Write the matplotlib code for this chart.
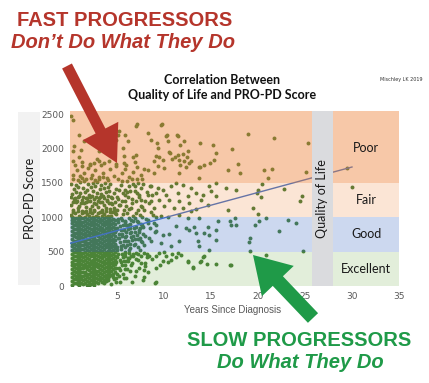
import matplotlib
matplotlib.use("Agg")
import matplotlib.pyplot as plt
from matplotlib.patches import Rectangle, FancyArrow

# --- data ---
# packed core of the scatter (below 1000): one x per column, y values per column
core_x = [0.2, 0.4, 0.6, 0.8, 1.0, 1.2, 1.4, 1.6, 1.8, 2.0, 2.2, 2.4,
          2.6, 2.8, 3.0, 3.2, 3.4, 3.6, 3.8, 4.0, 4.2, 4.4, 4.6, 4.8]
core_y = [
    [20, 75, 130, 185, 240, 300, 350, 410, 465, 520, 575, 630, 690, 745, 800, 855, 910, 965, 1010],
    [45, 100, 160, 215, 270, 325, 380, 440, 495, 550, 605, 660, 720, 775, 830, 885, 940, 990],
    [40, 95, 150, 210, 265, 320, 375, 430, 490, 545, 600, 655, 715, 770, 825, 880, 935, 995],
    [25, 80, 135, 190, 250, 305, 360, 415, 475, 530, 585, 640, 700, 755, 810, 865, 920, 980],
    [10, 65, 120, 175, 235, 290, 345, 400, 460, 515, 570, 625, 680, 740, 795, 850, 905, 960, 1015],
    [40, 95, 150, 205, 265, 320, 375, 430, 485, 545, 600, 655, 710, 770, 825, 880, 935, 995],
    [30, 85, 140, 200, 255, 310, 365, 425, 480, 535, 590, 650, 705, 760, 815, 870, 930, 985],
    [45, 100, 155, 210, 270, 325, 380, 435, 495, 550, 605, 660, 720, 775, 830, 890, 945, 1000],
    [15, 70, 125, 180, 240, 295, 350, 405, 465, 520, 575, 630, 690, 745, 800, 860, 915, 970],
    [10, 60, 115, 175, 230, 285, 340, 395, 455, 510, 565, 620, 680, 735, 790, 845, 905, 960, 1015],
    [35, 90, 145, 205, 260, 315, 370, 430, 485, 540, 600, 655, 710, 765, 825, 880, 935, 990],
    [50, 105, 160, 220, 275, 330, 385, 445, 500, 555, 610, 670, 725, 780, 835, 895, 950, 1005],
    [20, 75, 130, 190, 245, 300, 360, 415, 470, 525, 585, 640, 695, 750, 810, 865, 920, 975],
    [60, 115, 170, 225, 285, 340, 395, 450, 510, 565, 620, 675, 735, 790, 845, 900, 960],
    [45, 100, 155, 215, 270, 325, 380, 440, 495, 550, 605, 665, 720, 775, 830, 890, 945, 1000],
    [80, 135, 190, 250, 305, 360, 415, 475, 530, 585, 640, 700, 755, 810, 865, 925, 980],
    [60, 120, 175, 235, 290, 345, 400, 455, 515, 570, 625, 680, 740, 795, 850, 905, 960, 1020],
    [90, 145, 205, 260, 315, 370, 430, 485, 540, 595, 655, 710, 765, 820, 880, 935, 990],
    [110, 165, 220, 280, 335, 390, 445, 500, 560, 615, 670, 725, 780, 840, 895, 950, 1010],
    [120, 180, 235, 290, 350, 405, 460, 515, 575, 630, 685, 740, 800, 855, 910, 965],
    [140, 200, 255, 310, 365, 420, 480, 535, 590, 645, 705, 760, 815, 870, 930, 985],
    [160, 220, 280, 335, 390, 445, 505, 560, 615, 670, 730, 785, 840, 895, 955, 1015],
    [180, 240, 300, 355, 410, 465, 525, 580, 635, 690, 750, 805, 860, 915, 975],
    [200, 265, 320, 380, 440, 500, 555, 610, 670, 730, 785, 845, 900, 960],
]

# single points outside the packed core
pts_x = [
    # fair band, x 0-5
    0.15, 0.55, 1.05, 1.45, 1.85, 2.35, 2.75, 3.15, 3.65, 4.05, 4.45, 4.85,
    0.35, 0.8, 1.25, 1.65, 2.1, 2.55, 2.95, 3.4, 3.85, 4.25, 4.7,
    0.1, 0.6, 1.0, 1.5, 1.9, 2.3, 2.8, 3.2, 3.6, 4.1, 4.5,
    0.4, 0.85, 1.3, 1.75, 2.15, 2.6, 3.05, 3.5, 3.95, 4.35,
    0.2, 0.65, 1.1, 1.55, 2.0, 2.45, 2.9, 3.3, 3.8, 4.2, 4.65,
    0.45, 0.9, 1.4, 1.8, 2.25, 2.7, 3.15, 3.6, 4.0,
    0.15, 0.6, 1.05, 1.5, 1.95, 2.4, 2.85, 3.3, 3.75, 4.3,
    0.35, 0.8, 1.25, 1.7, 2.2, 2.65, 3.05, 3.5, 4.0,
    0.35, 0.8, 1.25, 1.65, 2.1, 2.55, 2.95, 3.4, 3.85, 4.25, 4.7,
    0.3, 0.75, 1.2, 1.7, 2.15, 2.6, 3.0, 3.45, 3.9, 4.35, 4.8,
    0.1, 0.55, 0.95, 1.4, 1.85, 2.3, 2.75, 3.2, 3.65, 4.05, 4.5,
    # fair band, x 5-8
    5.0, 5.3, 5.6, 5.9, 6.3, 6.6, 7.0, 7.3, 7.7, 5.2,
    5.8, 6.3, 6.9, 7.5, 7.8, 5.5, 6.6, 7.2, 5.1, 6.1,
    # good band, x 5-7.5
    5.0, 5.1, 5.0, 5.4, 5.5, 5.4, 5.9, 5.95, 6.0, 5.95,
    6.4, 6.45, 6.4, 6.9, 6.95, 7.4, 7.45, 7.1, 6.5, 5.55,
    # excellent band, x 4.5-8.5
    4.9, 5.05, 5.4, 5.5, 5.8, 5.9, 6.2, 6.3, 6.6, 6.7,
    7.0, 7.2, 7.5, 7.9, 8.2, 4.6, 5.0, 5.3, 6.1, 4.9,
    # edge of the core, x 5-9
    5.2, 5.3, 5.05, 5.35, 5.2, 5.3, 5.15,
    5.75, 5.8, 5.65, 5.85, 5.7, 5.8,
    6.25, 6.3, 6.15, 6.35, 6.2, 6.3,
    6.75, 6.8, 6.7, 6.85, 6.75,
    7.25, 7.2, 7.3, 7.25,
    7.7, 7.75, 7.65, 7.7,
    4.9, 5.1, 4.8, 5.2, 4.9, 5.1, 4.8, 5.2, 5.0, 4.9,
    5.5, 5.6, 5.4, 5.7, 5.5, 5.6, 5.4, 5.7, 5.5, 5.6, 5.4,
    6.0, 5.9, 6.1, 6.0, 6.2, 5.9, 6.1, 6.0, 6.2, 5.9, 6.1,
    6.5, 6.4, 6.6, 6.5, 6.4, 6.7, 6.5, 6.6, 6.4, 6.7,
    7.0, 6.9, 7.1, 7.0, 6.9, 7.2, 7.0, 7.1, 6.9,
    7.4, 7.5, 7.3, 7.6, 7.4, 7.5, 7.3, 7.6,
    7.9, 8.0, 7.8, 8.1, 7.9, 8.0, 8.2,
    8.4, 8.5, 8.3, 8.6, 8.4, 8.7, 8.5,
    9.0, 8.9, 9.2,
    # below the core
    3.6, 4.0, 4.4, 4.9, 5.3, 5.6, 6.0, 6.4, 6.9, 7.3, 4.7, 5.9, 7.6, 8.0, 8.3, 6.6, 7.9,
    7.2, 7.9, 7.0, 5.2, 5.7, 3.8, 2.6, 6.5, 7.8, 6.2,
    # excellent band, x 8-12
    8.2, 8.7, 9.2, 10.0, 10.8, 11.3, 11.8, 8.0, 9.6, 10.4,
    # 1500-1850, x 0-8
    0.3, 0.7, 1.1, 1.5, 1.9, 2.3, 2.7, 3.1, 3.5, 3.9, 4.3, 4.7, 5.1, 5.5, 5.9, 6.3, 6.7, 7.1, 7.5, 7.9,
    0.5, 1.3, 2.1, 3.3, 4.1, 4.9, 6.0, 6.9, 7.7, 2.9,
    # poor band, left part
    0.1, 0.3, 1.0, 1.5, 0.4, 0.3, 1.2, 1.0, 0.3, 1.3, 2.1, 2.6, 3.1, 3.6,
    5.2, 5.1, 4.9, 6.2, 7.0, 8.3, 5.6, 5.7, 7.0, 5.7, 4.9, 3.1, 7.1, 9.8, 5.8,
    10.3, 11.4, 9.3, 11.7, 13.8, 15.2, 10.6, 12.4, 9.9, 11.7, 13.8, 14.9, 6.7, 7.1,
    9.7, 8.6, 10.2, 11.5, 10.4, 12.1, 9.4, 10.5, 11.5, 12.0, 12.6, 9.1, 9.5, 11.2,
    11.6, 8.9, 10.8, 12.1, 12.7, 12.9, 15.5, 15.3, 9.4, 10.0, 12.3, 13.7, 14.3,
    # fair / good band, x 8-16
    8.3, 8.9, 11.6, 13.7, 11.3, 14.8, 15.5, 8.6, 9.4, 9.9, 10.7, 12.0, 12.9, 15.0,
    8.3, 9.1, 10.2, 11.5, 12.6, 13.4, 14.1, 8.6, 9.5, 10.5, 11.6, 12.7, 13.9, 14.7,
    15.5, 8.9, 10.0, 11.1, 12.0, 12.9, 13.4, 8.8, 9.7, 11.6, 12.6, 13.7, 10.4,
    8.3, 9.1, 11.3, 12.3, 13.2, 14.7, 15.7,
    # good / excellent band, x 8-16
    9.1, 9.9, 10.5, 8.6, 9.7, 11.6, 10.7, 12.7, 13.4, 14.3, 14.8, 15.5, 13.6, 13.7,
    15.5, 14.8, 9.5, 10.2, 10.7, 9.9, 11.5, 8.4, 12.6, 13.9, 14.3, 13.1, 15.5, 9.1,
    9.1, 12.6, 13.1, 13.8, 14.2, 14.6, 17.0, 9.0,
    # x 16-30
    18.9, 21.7, 25.3, 17.2, 17.9, 16.8, 18.1, 20.6, 21.5, 21.1, 25.1, 20.4, 17.7,
    16.6, 20.0, 19.9, 22.8, 20.3, 24.7, 24.5, 19.5, 16.8, 20.0, 17.6, 17.0, 20.9,
    17.1, 17.7, 20.1, 19.7, 23.2, 24.0, 22.2, 19.1, 19.0, 19.1, 20.9, 24.8, 17.1,
    29.5, 30.0,
]
pts_y = [
    1030, 1065, 1010, 1075, 1040, 1055, 1015, 1070, 1045, 1020, 1080, 1050,
    1110, 1135, 1095, 1145, 1120, 1100, 1150, 1105, 1130, 1115, 1140,
    1180, 1215, 1165, 1200, 1230, 1170, 1195, 1225, 1175, 1210, 1185,
    1265, 1290, 1250, 1275, 1300, 1260, 1285, 1305, 1255, 1295,
    1335, 1360, 1345, 1370, 1330, 1375, 1350, 1340, 1365, 1380, 1345,
    1410, 1440, 1420, 1400, 1435, 1455, 1405, 1430, 1445,
    1490, 1475, 1505, 1520, 1480, 1500, 1515, 1470, 1500, 1485,
    1550, 1540, 1575, 1555, 1565, 1535, 1560, 1580, 1545,
    1075, 1090, 1060, 1085, 1070, 1095, 1065, 1080, 1090, 1070, 1085,
    1215, 1235, 1205, 1220, 1240, 1210, 1230, 1215, 1235, 1205, 1225,
    1300, 1285, 1310, 1295, 1280, 1305, 1290, 1300, 1285, 1310, 1275,
    1100, 1180, 1050, 1240, 1120, 1200, 1060, 1320, 1150, 1400,
    1330, 1450, 1380, 1250, 1480, 1520, 1560, 1500, 1270, 1370,
    560, 700, 850, 580, 720, 820, 560, 650, 780, 890,
    610, 710, 850, 680, 790, 700, 840, 950, 960, 960,
    260, 420, 350, 470, 300, 430, 360, 480, 330, 440,
    390, 470, 430, 480, 420, 130, 180, 230, 250, 60,
    260, 380, 520, 640, 760, 870, 980,
    360, 490, 600, 710, 820, 930,
    400, 530, 650, 770, 880, 990,
    470, 600, 720, 840, 950,
    560, 690, 810, 930,
    640, 760, 880, 1000,
    350, 470, 590, 700, 820, 930, 1060, 1180, 1290, 1410,
    300, 420, 540, 650, 760, 880, 990, 1100, 1230, 1350, 1470,
    360, 480, 600, 720, 830, 950, 1060, 1170, 1290, 1400, 1520,
    430, 550, 670, 790, 900, 1020, 1140, 1260, 1380, 1480,
    480, 610, 740, 860, 990, 1110, 1230, 1350, 1460,
    520, 650, 780, 900, 1030, 1160, 1290, 1420,
    600, 730, 860, 980, 1100, 1240, 1370,
    700, 840, 960, 1080, 1200, 1330, 1460,
    780, 920, 1010,
    40, 80, 30, 120, 60, 170, 110, 220, 150, 260, 100, 240, 330, 290, 200, 60, 130,
    380, 230, 215, 145, 115, 75, 45, 305, 90, 410,
    470, 390, 440, 500, 470, 420, 450, 340, 310, 350,
    1620, 1680, 1600, 1650, 1720, 1610, 1680, 1590, 1650, 1570, 1700, 1600, 1550, 1640, 1700, 1580, 1660, 1560, 1620, 1700,
    1760, 1800, 1780, 1760, 1820, 1780, 1760, 1800, 1560, 1840,
    2470, 2410, 2200, 2110, 2035, 1960, 1980, 1875, 1820, 1745, 1760, 1790, 1820, 1790,
    2250, 2195, 2120, 2110, 2325, 2225, 2005, 1890, 1905, 1790, 1750, 1960, 2355, 2355, 2195,
    2195, 2195, 2080, 2050, 2080, 2050, 1930, 1875, 1830, 1760, 1730, 1790, 1875, 1730,
    2340, 2120, 2180, 2180, 2110, 2110, 2005, 1950, 1905, 1920, 1960, 1890, 1880, 1875,
    1830, 1820, 1840, 1820, 1790, 1820, 1935, 1830, 1745, 1715, 1730, 1730, 1760,
    1690, 1640, 1640, 1570, 1500, 1455, 1500, 1455, 1425, 1395, 1455, 1470, 1425, 1380,
    1320, 1350, 1320, 1350, 1310, 1350, 1320, 1235, 1250, 1250, 1235, 1205, 1250, 1180,
    1310, 1135, 1165, 1135, 1135, 1090, 1120, 1030, 1015, 1030, 990, 990, 1010,
    915, 885, 870, 845, 860, 860, 945,
    800, 740, 755, 655, 625, 655, 580, 815, 770, 770, 740, 815, 655, 580,
    670, 525, 480, 435, 380, 365, 480, 435, 365, 365, 435, 260, 320, 260,
    60, 350, 275, 350, 420, 320, 305, 45,
    2210, 2150, 2080, 1990, 1775, 1690, 1640, 1690, 1700, 1570, 1660, 1480, 1395,
    1425, 1395, 1350, 1410, 1295, 1310, 1235, 1135, 1105, 1045, 990, 945, 990,
    885, 885, 945, 885, 960, 915, 800, 700, 640, 510, 450, 510, 305,
    1715, 1440,
]

# linear trend drawn in the chart
trend_x = [0, 30]
trend_y = [620, 1730]

# quality-of-life bands
band_lo = [0, 500, 1000, 1500]
band_hi = [500, 1000, 1500, 2550]
band_names = ["Excellent", "Good", "Fair", "Poor"]
band_colors = ["#70AD47", "#4472C4", "#ED7D31", "#ED7D31"]
band_alpha = [0.2, 0.27, 0.2, 0.42]

x_ticks = [5, 10, 15, 20, 25, 30, 35]
y_ticks = [0, 500, 1000, 1500, 2000, 2500]

all_x = []
all_y = []
for cx, ys in zip(core_x, core_y):
    all_x += [cx] * len(ys)
    all_y += ys
all_x += pts_x
all_y += pts_y

fig = plt.figure(figsize=(4.29, 3.83), dpi=100)
ax = fig.add_axes([70 / 429, 1 - 286 / 383, 329 / 429, 175.4 / 383])

ax.scatter(all_x, all_y, s=8, color="#437a34", linewidths=0, zorder=1)
ax.plot(trend_x, trend_y, color="#4472C4", lw=1.0, zorder=1.5)

# bands are laid over the dots, as in the original
for lo, hi, c, a in zip(band_lo, band_hi, band_colors, band_alpha):
    ax.add_patch(Rectangle((0, lo), 25.7, hi - lo, color=c, alpha=a, lw=0, zorder=2))
    ax.add_patch(Rectangle((28, lo), 7, hi - lo, color=c, alpha=a, lw=0, zorder=2))
ax.add_patch(Rectangle((25.7, 0), 2.3, 2550, color="#dadbde", lw=0, zorder=3))

for lo, hi, name in zip(band_lo, band_hi, band_names):
    mid = (lo + min(hi, 2500)) / 2
    ax.text(31.5, mid, name, ha="center", va="center", fontsize=9,
            family="Lato", color="#1a1a1a", zorder=4)
ax.text(26.85, 1270, "Quality of Life", rotation=90, ha="center", va="center",
        fontsize=9, family="Lato", color="#1a1a1a", zorder=4)

ax.set_xlim(0, 35)
ax.set_ylim(0, 2550)
ax.set_xticks(x_ticks)
ax.set_yticks(y_ticks)
ax.tick_params(length=0, labelsize=6.5, colors="#595959", pad=4)
for s in ax.spines.values():
    s.set_visible(False)

# overlay in pixel coordinates for titles and arrows
ov = fig.add_axes([0, 0, 1, 1], zorder=5)
ov.set_xlim(0, 429)
ov.set_ylim(383, 0)
ov.axis("off")
ov.patch.set_visible(False)

ov.add_patch(Rectangle((18, 112), 22, 173, color="#f2f2f2", lw=0))
ov.text(30, 198, "PRO-PD Score", rotation=90, ha="center", va="center",
        fontsize=9, family="Lato", color="#1a1a1a")

ov.text(222, 80, "Correlation Between", ha="center", va="center",
        fontsize=9, family="Lato", weight="bold", color="#111111")
ov.text(222, 95, "Quality of Life and PRO-PD Score", ha="center", va="center",
        fontsize=9, family="Lato", weight="bold", color="#111111")
ov.text(401, 80, "Mischley LK 2019", ha="center", va="center",
        fontsize=3.5, color="#333333")
ov.text(233, 310, "Years Since Diagnosis", ha="center", va="center",
        fontsize=7, family="Liberation Sans", color="#595959")

red = "#b5352b"
green = "#1f9a48"
ov.text(125, 21, "FAST PROGRESSORS", ha="center", va="center", fontsize=14.5,
        family="Liberation Sans", weight="bold", color=red)
ov.text(123, 43, "Don\u2019t Do What They Do", ha="center", va="center", fontsize=14.5,
        family="Liberation Sans", weight="bold", style="italic", color=red)
ov.text(299, 341, "SLOW PROGRESSORS", ha="center", va="center", fontsize=14.5,
        family="Liberation Sans", weight="bold", color=green)
ov.text(300, 362, "Do What They Do", ha="center", va="center", fontsize=14.5,
        family="Liberation Sans", weight="bold", style="italic", color=green)

ov.add_patch(FancyArrow(67, 66, 50, 97, width=11, head_width=40, head_length=36,
                        length_includes_head=True, color=red, lw=0))
ov.add_patch(FancyArrow(313, 318, -60, -63, width=14, head_width=44, head_length=36,
                        length_includes_head=True, color=green, lw=0))

fig.savefig("out.png", dpi=100)
